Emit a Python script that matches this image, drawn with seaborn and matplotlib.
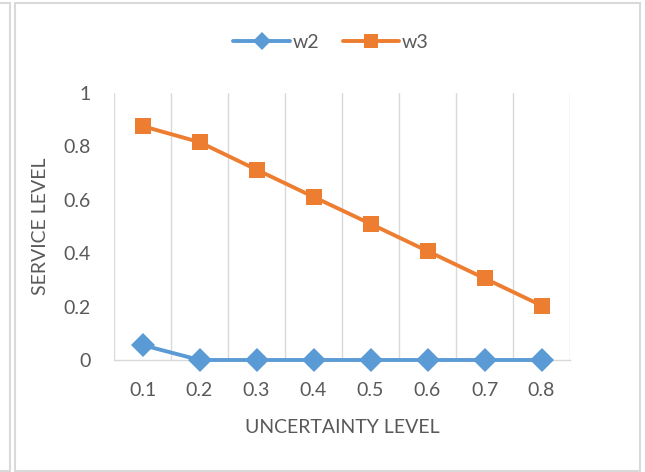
import matplotlib
matplotlib.use("Agg")
import matplotlib.pyplot as plt
from matplotlib.lines import Line2D
from matplotlib.patches import Rectangle
import seaborn as sns
import pandas as pd
import numpy as np

# ---- data ----
x_labels = ["0.1", "0.2", "0.3", "0.4", "0.5", "0.6", "0.7", "0.8"]
w2 = [0.056, 0, 0, 0, 0, 0, 0, 0]
w3 = [0.876, 0.816, 0.713, 0.611, 0.510, 0.408, 0.306, 0.204]
series_names = ["w2", "w3"]
y_ticks = [0, 0.2, 0.4, 0.6, 0.8, 1]
y_tick_labels = ["0", "0.2", "0.4", "0.6", "0.8", "1"]

BLUE = "#5B9BD5"
ORANGE = "#ED7D31"
TEXT = "#595959"
GRID = "#D9D9D9"

sns.set_style("white")
plt.rcParams["font.family"] = ["Lato", "DejaVu Sans"]

df = pd.DataFrame({
    "pos": list(range(len(x_labels))) * 2,
    "value": w2 + w3,
    "series": ["w2"] * len(w2) + ["w3"] * len(w3),
})

W, H = 645, 472
fig = plt.figure(figsize=(W / 100, H / 100), dpi=100)
ax = fig.add_axes([114 / W, 1 - 360 / H, 456 / W, 267 / H])

sns.lineplot(data=df, x="pos", y="value", hue="series", style="series",
             markers={"w2": "D", "w3": "s"}, dashes=False,
             palette={"w2": BLUE, "w3": ORANGE}, linewidth=2.8,
             markersize=12, markeredgewidth=0, ax=ax, legend=False,
             clip_on=False, zorder=5)
for ln in ax.lines:
    if ln.get_marker() == "D":
        ln.set_markersize(12.5)

ax.set_xlim(-0.5, len(x_labels) - 0.5)
ax.set_ylim(0, 1)
ax.set_xticks(range(len(x_labels)))
ax.set_xticklabels(x_labels)
ax.set_xticks(np.arange(-0.5, len(x_labels), 1), minor=True)
ax.set_yticks(y_ticks)
ax.set_yticklabels(y_tick_labels)
ax.grid(False)
ax.grid(which="minor", axis="x", color=GRID, linewidth=1.0)
ax.tick_params(axis="both", which="both", length=0, colors=TEXT, labelsize=14)
ax.tick_params(axis="x", which="major", pad=16)
ax.tick_params(axis="y", which="major", pad=17)
for s in ["top", "right", "left"]:
    ax.spines[s].set_visible(False)
ax.spines["bottom"].set_color(GRID)
ax.spines["bottom"].set_linewidth(1.0)

ax.set_xlabel("UNCERTAINTY LEVEL", fontsize=14, color=TEXT, labelpad=14)
ax.set_ylabel("SERVICE LEVEL", fontsize=14, color=TEXT, labelpad=10)

handles = [
    Line2D([], [], color=BLUE, lw=2.8, marker="D", markersize=9, markeredgewidth=0),
    Line2D([], [], color=ORANGE, lw=2.8, marker="s", markersize=10, markeredgewidth=0),
]
leg = fig.legend(handles, series_names, loc="center", bbox_to_anchor=(331 / W, 1 - 42 / H),
                 ncol=2, frameon=False, fontsize=14, handlelength=2.9,
                 handletextpad=0.15, columnspacing=1.2, labelcolor=TEXT)

# chart frame
fig.patches.append(Rectangle((14.5 / W, 1 - 471 / H), (639.5 - 14.5) / W, (471 - 2.5) / H,
                             transform=fig.transFigure, fill=False,
                             edgecolor=GRID, linewidth=1.5))
fig.patches.append(Rectangle((-10 / W, 1 - 471 / H), (20 / W), (471 - 2.5) / H,
                             transform=fig.transFigure, fill=False,
                             edgecolor=GRID, linewidth=1.5))

fig.savefig("out.png", dpi=100)
